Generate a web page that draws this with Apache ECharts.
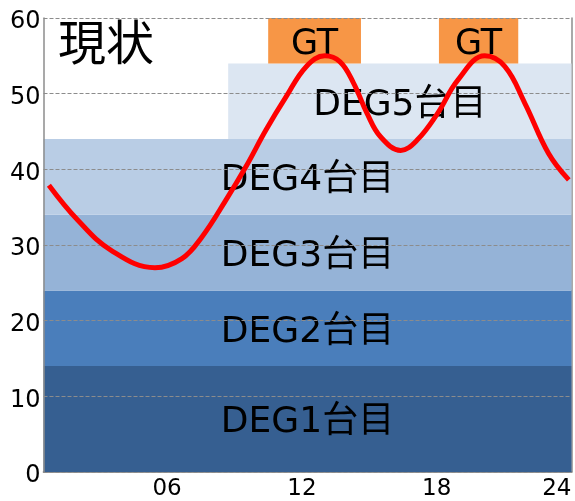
<!DOCTYPE html>
<html>
<head>
<meta charset="utf-8">
<script src="https://cdn.jsdelivr.net/npm/echarts@6/dist/echarts.min.js"></script>
<style>
  html, body { margin: 0; padding: 0; background: #fff; }
  #chart { width: 575px; height: 501px; }
</style>
</head>
<body>
<div id="chart"></div>
<script>
// Demand curve over the day (hour of day, load)
const hours = [0.74, 2.02, 3.51, 5.46, 6.66, 7.56, 8.61, 9.5, 10.4, 11.3, 12.2, 13.02, 13.7, 14.3, 14.9, 15.5, 16.4, 17.14, 18.04, 18.94, 20.14, 21.03, 21.93, 22.98, 23.88];
const load  = [37.9, 33.3, 29.3, 27.0, 28.2, 31.1, 35.9, 40.3, 45.2, 49.6, 53.6, 55.0, 54.2, 51.4, 47.4, 44.3, 42.5, 43.9, 47.4, 51.8, 55.0, 53.6, 48.7, 42.1, 38.6];

// Generator units: capacity bands (hour span, load span)
const unitNames = ['DEG1台目', 'DEG2台目', 'DEG3台目', 'DEG4台目', 'DEG5台目'];
const unitStart = [0.5, 0.5, 0.5, 0.5, 8.72];
const unitEnd   = [24, 24, 24, 24, 24];
const unitLow   = [0, 14, 24, 34, 44];
const unitHigh  = [14, 24, 34, 44, 54];

// Gas turbine operating windows
const gtNames = ['GT', 'GT'];
const gtStart = [10.5, 18.1];
const gtEnd   = [14.63, 21.63];
const gtLow   = [54, 54];
const gtHigh  = [60, 60];

// Axis ticks
const xTicks = [6, 12, 18, 24];
const xTickLabels = ['06', '12', '18', '24'];

const unitColors = ['#365F91', '#4A7EBB', '#95B3D7', '#B9CDE5', '#DCE6F2'];
const gtColor = '#F79646';
const FONT = '"DejaVu Sans", "Noto Sans CJK JP", sans-serif';

const unitData = unitNames.map((n, i) => [unitStart[i], unitEnd[i], unitLow[i], unitHigh[i], n, i]);
const gtData = gtNames.map((n, i) => [gtStart[i], gtEnd[i], gtLow[i], gtHigh[i], n, i]);

function rectRenderer(fillFor, fontSize) {
  return function (params, api) {
    const tl = api.coord([api.value(0), api.value(3)]);
    const br = api.coord([api.value(1), api.value(2)]);
    return {
      type: 'rect',
      shape: { x: tl[0], y: tl[1], width: br[0] - tl[0], height: br[1] - tl[1] },
      style: { fill: fillFor(api.value(5)) },
      textContent: {
        type: 'text',
        style: { text: api.value(4), fontSize: fontSize, fontFamily: FONT, fill: '#000' }
      },
      textConfig: { position: 'inside', offset: [0, 4] }
    };
  };
}

const chart = echarts.init(document.getElementById('chart'), null, { renderer: 'canvas' });
chart.setOption({
  animation: false,
  backgroundColor: '#fff',
  title: {
    text: '現状', left: 53, top: 19,
    textStyle: { fontSize: 48, fontWeight: 'normal', fontFamily: FONT, color: '#000' }
  },
  grid: { left: 43.5, right: 3.5, top: 18, bottom: 29, containLabel: false },
  xAxis: [{
    type: 'value', min: 0.5, max: 24,
    axisLine: { show: true, lineStyle: { color: '#8c8c8c', width: 1.5 } },
    axisTick: { show: false },
    splitLine: { show: false },
    axisLabel: {
      customValues: xTicks,
      formatter: v => xTickLabels[xTicks.indexOf(v)],
      fontSize: 23, fontFamily: FONT, color: '#000', margin: 6,
      alignMaxLabel: 'right'
    }
  }, {
    type: 'value', min: 0.5, max: 24, position: 'top',
    axisLine: { show: true, lineStyle: { color: '#8c8c8c', width: 1.5 } },
    axisTick: { show: false }, axisLabel: { show: false }, splitLine: { show: false }
  }],
  yAxis: [{
    type: 'value', min: 0, max: 60, interval: 10,
    axisLine: { show: true, lineStyle: { color: '#8c8c8c', width: 1.5 } },
    axisTick: { show: false },
    splitLine: { show: true, lineStyle: { color: '#8c8c8c', type: [4, 2], width: 1 } },
    axisLabel: {
      margin: 3,
      formatter: v => '{n|' + v + '}',
      rich: { n: { fontSize: 24, fontFamily: FONT, color: '#000', padding: [8, 0, 0, 0] } }
    },
    z: 5
  }, {
    type: 'value', min: 0, max: 60, interval: 10, position: 'right',
    axisLine: { show: true, lineStyle: { color: '#8c8c8c', width: 1.5 } },
    axisTick: { show: false }, axisLabel: { show: false }, splitLine: { show: false }
  }],
  series: [{
    type: 'custom',
    renderItem: rectRenderer(i => unitColors[i], 36),
    data: unitData,
    encode: { x: [0, 1], y: [2, 3] },
    z: 1
  }, {
    type: 'custom',
    renderItem: rectRenderer(() => gtColor, 35),
    data: gtData,
    encode: { x: [0, 1], y: [2, 3] },
    z: 1
  }, {
    type: 'line',
    data: hours.map((h, i) => [h, load[i]]),
    smooth: 0.4,
    symbol: 'none',
    lineStyle: { color: '#FF0000', width: 5 },
    z: 10
  }]
});
</script>
</body>
</html>
